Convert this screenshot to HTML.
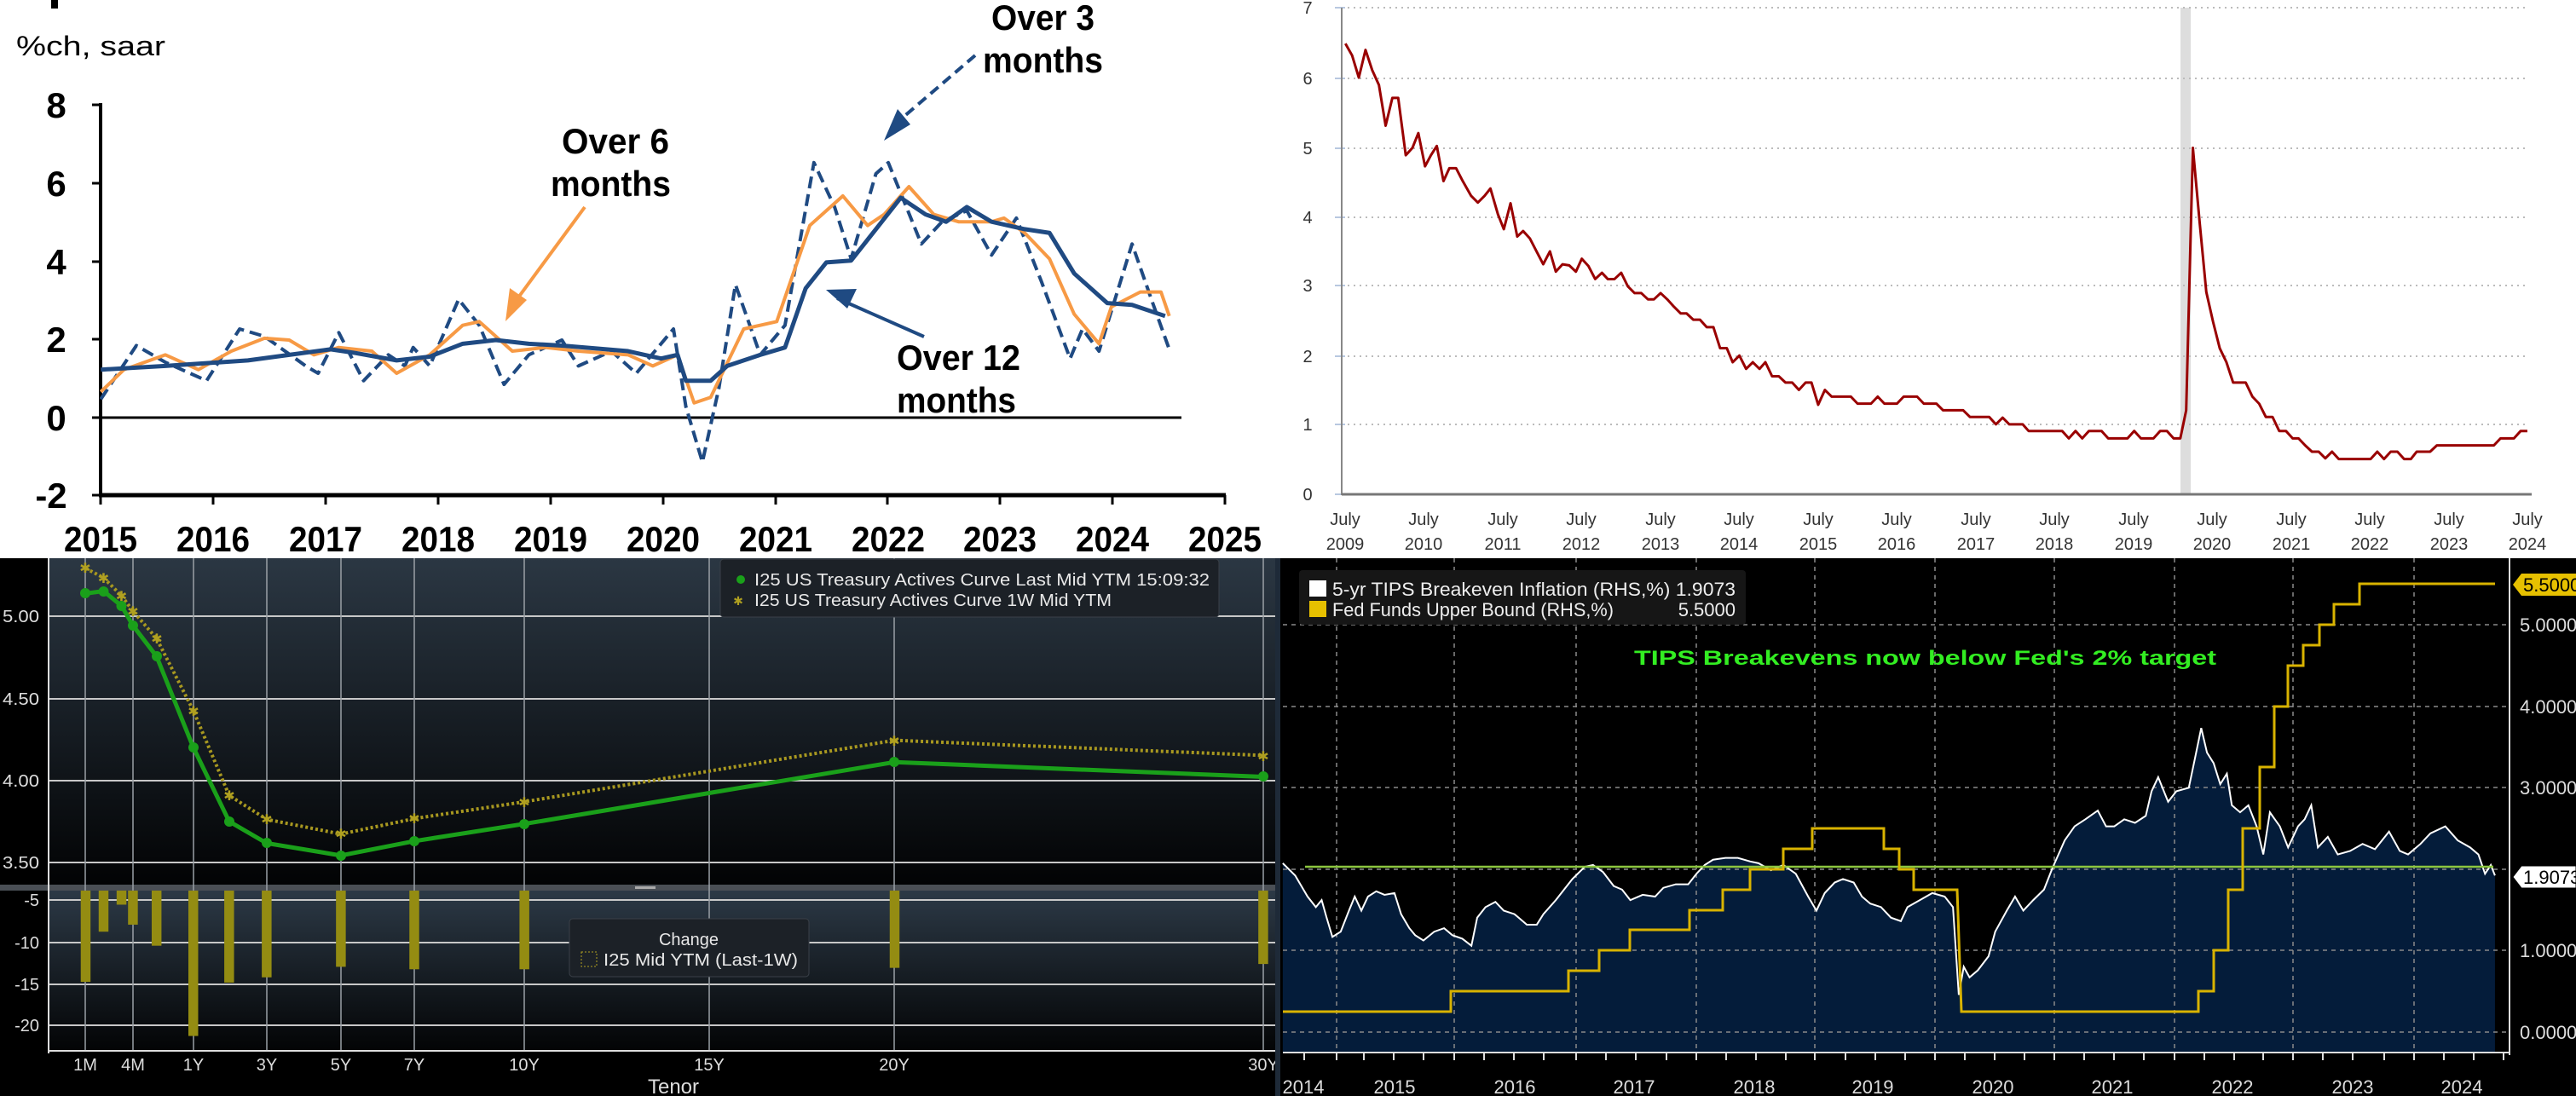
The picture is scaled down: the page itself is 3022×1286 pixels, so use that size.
<!DOCTYPE html>
<html><head><meta charset="utf-8"><style>
html,body{margin:0;padding:0;background:#fff;}
svg{display:block;font-family:"Liberation Sans",sans-serif;}
</style></head><body>
<svg width="3022" height="1286" viewBox="0 0 3022 1286" xmlns="http://www.w3.org/2000/svg">
<defs>
<linearGradient id="gU" x1="0" y1="0" x2="0" y2="1"><stop offset="0" stop-color="#2b3743"/><stop offset="1" stop-color="#020304"/></linearGradient>
<linearGradient id="gL" x1="0" y1="0" x2="0" y2="1"><stop offset="0" stop-color="#2c3946"/><stop offset="1" stop-color="#030405"/></linearGradient>
</defs>
<rect x="0" y="0" width="3022" height="655" fill="#fff"/>

<!-- ============ TOP LEFT ============ -->
<g fill="#000">
<rect x="60" y="0" width="8" height="10"/>
<text x="19" y="65" font-size="32" textLength="175" lengthAdjust="spacingAndGlyphs">%ch, saar</text>
<g font-weight="bold" font-size="42" text-anchor="middle">
<text x="66" y="138">8</text><text x="66" y="230">6</text><text x="66" y="322">4</text><text x="66" y="413">2</text><text x="66" y="505">0</text><text x="60" y="596">-2</text>
</g>
<g font-weight="bold" font-size="42">
<text x="75" y="647" textLength="86" lengthAdjust="spacingAndGlyphs">2015</text>
<text x="207" y="647" textLength="86" lengthAdjust="spacingAndGlyphs">2016</text>
<text x="339" y="647" textLength="86" lengthAdjust="spacingAndGlyphs">2017</text>
<text x="471" y="647" textLength="86" lengthAdjust="spacingAndGlyphs">2018</text>
<text x="603" y="647" textLength="86" lengthAdjust="spacingAndGlyphs">2019</text>
<text x="735" y="647" textLength="86" lengthAdjust="spacingAndGlyphs">2020</text>
<text x="867" y="647" textLength="86" lengthAdjust="spacingAndGlyphs">2021</text>
<text x="999" y="647" textLength="86" lengthAdjust="spacingAndGlyphs">2022</text>
<text x="1130" y="647" textLength="86" lengthAdjust="spacingAndGlyphs">2023</text>
<text x="1262" y="647" textLength="86" lengthAdjust="spacingAndGlyphs">2024</text>
<text x="1394" y="647" textLength="86" lengthAdjust="spacingAndGlyphs">2025</text>
<text x="659" y="180" textLength="126" lengthAdjust="spacingAndGlyphs">Over 6</text>
<text x="646" y="230" textLength="141" lengthAdjust="spacingAndGlyphs">months</text>
<text x="1163" y="35" textLength="121" lengthAdjust="spacingAndGlyphs">Over 3</text>
<text x="1153" y="85" textLength="141" lengthAdjust="spacingAndGlyphs">months</text>
<text x="1052" y="434" textLength="145" lengthAdjust="spacingAndGlyphs">Over 12</text>
<text x="1052" y="484" textLength="140" lengthAdjust="spacingAndGlyphs">months</text>
</g>
</g>
<g stroke="#000" fill="none">
<line x1="118" y1="121" x2="118" y2="583" stroke-width="4"/>
<line x1="116" y1="581" x2="1438" y2="581" stroke-width="5"/>
<line x1="118" y1="490" x2="1386" y2="490" stroke-width="3"/>
<path d="M108 123H118M108 215H118M108 307H118M108 398H118M108 490H118M108 581H118" stroke-width="3"/>
<path d="M118 581V592M250 581V592M382 581V592M514 581V592M646 581V592M778 581V592M910 581V592M1041 581V592M1173 581V592M1305 581V592M1437 581V592" stroke-width="3"/>
</g>
<g transform="scale(0.9694,0.4337)" fill="none" stroke-linejoin="round">
<polyline vector-effect="non-scaling-stroke" stroke="#1f4a82" stroke-width="4" stroke-dasharray="14,7" points="122,1080 165,935 200,980 230,1010 250,1030 290,890 320,910 370,990 385,1010 410,900 440,1030 470,960 490,990 500,940 520,990 555,810 580,880 610,1040 640,960 680,920 700,990 740,950 770,1010 815,890 830,1100 850,1250 870,1050 890,770 920,960 950,880 985,440 1010,560 1030,700 1060,470 1075,440 1115,660 1140,600 1170,570 1200,690 1230,590 1260,760 1295,970 1310,890 1330,950 1370,660 1395,820 1415,945"/>
<polyline vector-effect="non-scaling-stroke" stroke="#f79a45" stroke-width="4" points="122,1060 150,1000 200,960 240,1000 280,950 320,915 350,920 380,960 410,940 450,950 480,1010 520,960 560,880 580,870 620,950 660,940 700,950 760,960 790,990 820,960 840,1090 860,1075 900,890 940,870 980,610 1020,530 1050,610 1070,580 1100,505 1130,580 1160,600 1200,600 1215,590 1240,630 1270,700 1300,850 1330,930 1345,830 1380,790 1405,790 1415,855"/>
<polyline vector-effect="non-scaling-stroke" stroke="#1f4a82" stroke-width="5" points="122,1000 200,990 300,975 350,960 400,945 430,955 480,975 520,965 560,930 600,920 640,930 680,935 760,950 800,970 820,960 830,1030 860,1030 880,990 920,960 950,940 975,780 1000,710 1030,705 1060,620 1090,535 1120,580 1145,600 1170,560 1200,600 1240,620 1270,630 1300,740 1340,820 1370,825 1410,855"/>
</g>
<!-- arrows -->
<g fill="none" stroke-width="4">
<line x1="1144" y1="65" x2="1045" y2="150" stroke="#1f4a82" stroke-dasharray="12,7"/>
<polygon points="1037,165 1053,128 1068,146" fill="#1f4a82" stroke="none"/>
<line x1="686" y1="243" x2="600" y2="360" stroke="#f79a45"/>
<polygon points="593,377 598,338 618,352" fill="#f79a45" stroke="none"/>
<line x1="1084" y1="395" x2="982" y2="350" stroke="#1f4a82"/>
<polygon points="969,340 1005,339 994,362" fill="#1f4a82" stroke="none"/>
</g>

<!-- ============ TOP RIGHT ============ -->
<rect x="2558" y="9" width="12" height="571" fill="#ddd"/>
<g stroke="#bbb" stroke-width="2" stroke-dasharray="2,5">
<path d="M1574 9H2965M1574 92H2965M1574 174H2965M1574 255H2965M1574 335H2965M1574 418H2965M1574 498H2965"/>
</g>
<g stroke="#b8c8e0" stroke-width="2"><path d="M1566 9H1578M1566 92H1578M1566 174H1578M1566 255H1578M1566 335H1578M1566 418H1578M1566 498H1578M1566 580H1578"/></g>
<line x1="1574" y1="9" x2="1574" y2="581" stroke="#888" stroke-width="2"/>
<line x1="1574" y1="580" x2="2970" y2="580" stroke="#777" stroke-width="3"/>
<g fill="#333" font-size="20" text-anchor="middle">
<text x="1534" y="16">7</text><text x="1534" y="99">6</text><text x="1534" y="181">5</text><text x="1534" y="262">4</text><text x="1534" y="342">3</text><text x="1534" y="425">2</text><text x="1534" y="505">1</text><text x="1534" y="587">0</text>
</g>
<g fill="#333" font-size="20" text-anchor="middle">
<text x="1578" y="616">July</text><text x="1670" y="616">July</text><text x="1763" y="616">July</text><text x="1855" y="616">July</text><text x="1948" y="616">July</text><text x="2040" y="616">July</text><text x="2133" y="616">July</text><text x="2225" y="616">July</text><text x="2318" y="616">July</text><text x="2410" y="616">July</text><text x="2503" y="616">July</text><text x="2595" y="616">July</text><text x="2688" y="616">July</text><text x="2780" y="616">July</text><text x="2873" y="616">July</text><text x="2965" y="616">July</text>
<text x="1578" y="645">2009</text><text x="1670" y="645">2010</text><text x="1763" y="645">2011</text><text x="1855" y="645">2012</text><text x="1948" y="645">2013</text><text x="2040" y="645">2014</text><text x="2133" y="645">2015</text><text x="2225" y="645">2016</text><text x="2318" y="645">2017</text><text x="2410" y="645">2018</text><text x="2503" y="645">2019</text><text x="2595" y="645">2020</text><text x="2688" y="645">2021</text><text x="2780" y="645">2022</text><text x="2873" y="645">2023</text><text x="2965" y="645">2024</text>
</g>
<g transform="translate(1480,0) scale(0.9834,0.4337)" fill="none">
<polyline vector-effect="non-scaling-stroke" stroke="#990000" stroke-width="3" stroke-linejoin="round" points="100,118 108,150 116,210 124,135 132,190 140,230 148,340 156,265 163,265 172,420 180,400 187,360 195,450 202,420 209,395 217,490 224,455 232,455 240,490 250,530 258,548 266,530 273,510 282,580 289,620 297,550 305,640 312,625 320,645 328,680 336,715 344,680 351,735 359,715 367,718 375,735 382,700 390,720 398,755 406,738 413,755 421,755 429,738 437,775 445,793 453,793 461,810 468,810 476,793 484,810 492,830 500,848 507,848 515,865 523,865 531,885 539,885 547,942 555,942 562,980 570,962 578,998 586,980 594,998 601,980 609,1018 617,1018 625,1035 633,1035 641,1055 649,1035 656,1035 664,1095 672,1055 680,1073 703,1073 711,1092 727,1092 735,1073 743,1092 758,1092 766,1073 782,1073 790,1092 805,1092 813,1110 837,1110 845,1128 868,1128 876,1148 884,1130 892,1148 908,1148 915,1166 955,1166 963,1186 971,1166 979,1186 987,1166 1002,1166 1010,1186 1033,1186 1041,1166 1049,1186 1064,1186 1072,1166 1080,1166 1088,1186 1096,1186 1103,1110 1111,400 1119,600 1127,790 1135,870 1143,942 1151,980 1159,1035 1174,1035 1182,1073 1190,1092 1198,1128 1206,1128 1214,1166 1222,1166 1230,1186 1237,1186 1245,1205 1253,1222 1261,1222 1269,1240 1277,1222 1285,1242 1323,1242 1331,1222 1339,1242 1347,1222 1355,1222 1363,1242 1371,1242 1378,1222 1394,1222 1402,1205 1470,1205 1478,1186 1494,1186 1502,1166 1510,1166"/>
</g>

<!-- ============ BOTTOM LEFT ============ -->
<rect x="0" y="655" width="1500" height="631" fill="#000"/>
<rect x="57" y="655" width="1443" height="383" fill="url(#gU)"/>
<rect x="57" y="1045" width="1443" height="188" fill="url(#gL)"/>
<rect x="0" y="1038" width="1500" height="7" fill="#4a4f55"/>
<rect x="745" y="1040" width="24" height="3" fill="#aaa"/>
<g stroke="#c8c8c8" stroke-width="2">
<path d="M57 723H1500M57 820H1500M57 916H1500M57 1012H1500M57 1056H1500M57 1106H1500M57 1155H1500M57 1203H1500"/>
</g>
<g stroke="#9aa0a6" stroke-width="1.5">
<path d="M100 655V1233M156 655V1233M227 655V1233M313 655V1233M400 655V1233M486 655V1233M615 655V1233M832 655V1233M1049 655V1233M1482 655V1233"/>
</g>
<line x1="57" y1="655" x2="57" y2="1236" stroke="#ddd" stroke-width="2"/>
<line x1="57" y1="1233" x2="1500" y2="1233" stroke="#ddd" stroke-width="2"/>
<g fill="#ddd" font-size="20" text-anchor="end">
<text x="46" y="730" textLength="43" lengthAdjust="spacingAndGlyphs">5.00</text>
<text x="46" y="827" textLength="43" lengthAdjust="spacingAndGlyphs">4.50</text>
<text x="46" y="923" textLength="43" lengthAdjust="spacingAndGlyphs">4.00</text>
<text x="46" y="1019" textLength="43" lengthAdjust="spacingAndGlyphs">3.50</text>
<text x="46" y="1063">-5</text><text x="46" y="1113">-10</text><text x="46" y="1162">-15</text><text x="46" y="1210">-20</text>
</g>
<g fill="#ddd" font-size="20" text-anchor="middle">
<text x="100" y="1256">1M</text><text x="156" y="1256">4M</text><text x="227" y="1256">1Y</text><text x="313" y="1256">3Y</text><text x="400" y="1256">5Y</text><text x="486" y="1256">7Y</text><text x="615" y="1256">10Y</text><text x="832" y="1256">15Y</text><text x="1049" y="1256">20Y</text><text x="1482" y="1256">30Y</text>
<text x="790" y="1283" font-size="24">Tenor</text>
</g>
<g transform="translate(0,640) scale(0.9567,0.4120)">
<g fill="#948c12">
<rect x="99" y="983" width="12" height="260"/><rect x="121" y="983" width="12" height="117"/><rect x="143" y="983" width="12" height="40"/><rect x="157" y="983" width="12" height="97"/><rect x="186" y="983" width="12" height="157"/><rect x="231" y="983" width="12" height="414"/><rect x="275" y="983" width="12" height="262"/><rect x="321" y="983" width="12" height="247"/><rect x="412" y="983" width="12" height="217"/><rect x="502" y="983" width="12" height="224"/><rect x="637" y="983" width="12" height="224"/><rect x="1091" y="983" width="12" height="220"/><rect x="1543" y="983" width="12" height="209"/>
</g>
<polyline vector-effect="non-scaling-stroke" fill="none" stroke="#a89820" stroke-width="4" stroke-dasharray="3,3" points="105,65 127,92 149,143 163,187 192,265 237,470 281,712 327,780 418,822 508,778 643,730 1097,555 1549,598"/>
<polyline vector-effect="non-scaling-stroke" fill="none" stroke="#1aa01a" stroke-width="5" points="105,137 127,130 149,172 163,228 192,316 237,575 281,786 327,848 418,883 508,842 643,793 1097,617 1549,659"/>
</g>
<g fill="#1aa01a">
<circle cx="100" cy="696" r="6"/><circle cx="121.5" cy="694" r="6"/><circle cx="142.5" cy="711" r="6"/><circle cx="156" cy="734" r="6"/><circle cx="184" cy="770" r="6"/><circle cx="227" cy="877" r="6"/><circle cx="269" cy="964" r="6"/><circle cx="313" cy="989" r="6"/><circle cx="400" cy="1004" r="6"/><circle cx="486" cy="987" r="6"/><circle cx="615" cy="967" r="6"/><circle cx="1049" cy="894" r="6"/><circle cx="1482" cy="911" r="6"/>
</g>
<g fill="#b0a020" font-size="16" text-anchor="middle">
<text x="100" y="672">✱</text><text x="121.5" y="684">✱</text><text x="142.5" y="705">✱</text><text x="156" y="723">✱</text><text x="184" y="755">✱</text><text x="227" y="840">✱</text><text x="269" y="939">✱</text><text x="313" y="967">✱</text><text x="400" y="984">✱</text><text x="486" y="966">✱</text><text x="615" y="947">✱</text><text x="1049" y="875">✱</text><text x="1482" y="893">✱</text>
</g>
<rect x="845" y="656" width="585" height="68" rx="4" fill="#1c2127" stroke="#3a4048"/>
<circle cx="869" cy="680" r="5" fill="#1aa01a"/>
<text x="866" y="710" fill="#b0a020" font-size="14" text-anchor="middle">✱</text>
<g fill="#e8e8e8" font-size="20">
<text x="885" y="687" textLength="534" lengthAdjust="spacingAndGlyphs">I25 US Treasury Actives Curve Last Mid YTM 15:09:32</text>
<text x="885" y="711" textLength="419" lengthAdjust="spacingAndGlyphs">I25 US Treasury Actives Curve 1W Mid YTM</text>
</g>
<rect x="668" y="1078" width="281" height="68" rx="4" fill="#1c2127" stroke="#3a4048"/>
<text x="808" y="1109" fill="#e8e8e8" font-size="20" text-anchor="middle">Change</text>
<rect x="682" y="1117" width="18" height="17" fill="none" stroke="#b0a020" stroke-dasharray="2,2"/>
<text x="708" y="1133" fill="#e8e8e8" font-size="20" textLength="228" lengthAdjust="spacingAndGlyphs">I25 Mid YTM (Last-1W)</text>

<!-- ============ BOTTOM RIGHT ============ -->
<rect x="1500" y="655" width="1522" height="631" fill="#000"/>
<rect x="1496" y="655" width="6" height="631" fill="#1e2a38"/>
<g transform="translate(1500,640) scale(0.9707,0.4120)">
<polygon fill="#041c3a" points="5,1445 5,905 20,940 35,1000 45,1030 52,1010 58,1060 65,1115 75,1100 85,1040 92,1000 100,1040 108,1000 118,985 128,995 140,990 148,1050 158,1090 165,1110 175,1125 188,1100 200,1090 210,1110 222,1120 233,1140 240,1060 250,1030 262,1015 272,1040 285,1050 300,1080 312,1080 320,1050 335,1010 345,980 355,950 370,915 380,910 392,930 405,970 415,980 425,1010 440,995 455,1000 465,975 480,965 495,965 505,935 515,910 525,895 540,890 555,890 570,900 580,905 595,925 610,910 625,935 640,1000 650,1040 660,990 672,960 682,950 695,960 705,1000 715,1020 728,1030 740,1060 752,1070 760,1030 775,1010 790,990 805,1000 815,1030 822,1280 828,1200 835,1230 845,1210 858,1170 866,1100 880,1040 890,1000 900,1040 912,1010 925,980 935,920 950,840 962,800 975,780 990,755 1000,800 1010,800 1022,780 1035,790 1048,770 1055,700 1063,660 1075,730 1085,700 1100,690 1108,600 1115,520 1122,590 1130,620 1138,680 1146,650 1152,740 1162,760 1172,740 1182,800 1190,880 1198,760 1210,800 1220,860 1232,800 1240,780 1248,740 1256,860 1268,830 1280,880 1295,870 1310,850 1325,865 1342,815 1355,870 1365,880 1380,850 1392,820 1410,800 1425,840 1440,860 1450,880 1458,935 1465,910 1470,940 1470,1445"/>
</g>
<g stroke="#8a8a8a" stroke-width="1.5" stroke-dasharray="5,5">
<path d="M1505 733H2944M1505 829H2944M1505 924H2944M1505 1020H2944M1505 1115H2944M1505 1211H2944"/>
<path d="M1568 655V1235M1706 655V1235M1849 655V1235M1990 655V1235M2129 655V1235M2270 655V1235M2410 655V1235M2551 655V1235M2690 655V1235M2832 655V1235"/>
</g>
<g transform="translate(1500,640) scale(0.9707,0.4120)">
<polyline vector-effect="non-scaling-stroke" fill="none" stroke="#fff" stroke-width="2" points="5,905 20,940 35,1000 45,1030 52,1010 58,1060 65,1115 75,1100 85,1040 92,1000 100,1040 108,1000 118,985 128,995 140,990 148,1050 158,1090 165,1110 175,1125 188,1100 200,1090 210,1110 222,1120 233,1140 240,1060 250,1030 262,1015 272,1040 285,1050 300,1080 312,1080 320,1050 335,1010 345,980 355,950 370,915 380,910 392,930 405,970 415,980 425,1010 440,995 455,1000 465,975 480,965 495,965 505,935 515,910 525,895 540,890 555,890 570,900 580,905 595,925 610,910 625,935 640,1000 650,1040 660,990 672,960 682,950 695,960 705,1000 715,1020 728,1030 740,1060 752,1070 760,1030 775,1010 790,990 805,1000 815,1030 822,1280 828,1200 835,1230 845,1210 858,1170 866,1100 880,1040 890,1000 900,1040 912,1010 925,980 935,920 950,840 962,800 975,780 990,755 1000,800 1010,800 1022,780 1035,790 1048,770 1055,700 1063,660 1075,730 1085,700 1100,690 1108,600 1115,520 1122,590 1130,620 1138,680 1146,650 1152,740 1162,760 1172,740 1182,800 1190,880 1198,760 1210,800 1220,860 1232,800 1240,780 1248,740 1256,860 1268,830 1280,880 1295,870 1310,850 1325,865 1342,815 1355,870 1365,880 1380,850 1392,820 1410,800 1425,840 1440,860 1450,880 1458,935 1465,910 1470,940"/>
</g>
<line x1="1531" y1="1017" x2="2925" y2="1017" stroke="#8cc63f" stroke-width="2.5"/>
<polyline fill="none" stroke="#d9b300" stroke-width="3" points="1505,1187 1702,1187 1702,1163 1840,1163 1840,1139 1876,1139 1876,1115 1912,1115 1912,1091 1982,1091 1982,1068 2021,1068 2021,1044 2053,1044 2053,1020 2092,1020 2092,996 2126,996 2126,972 2210,972 2210,996 2228,996 2228,1020 2245,1020 2245,1044 2296,1044 2301,1187 2579,1187 2579,1163 2597,1163 2597,1115 2614,1115 2614,1044 2631,1044 2631,972 2651,972 2651,900 2668,900 2668,829 2684,829 2684,781 2702,781 2702,757 2721,757 2721,733 2738,733 2738,709 2768,709 2768,685 2927,685"/>
<line x1="2944" y1="655" x2="2944" y2="1238" stroke="#ddd" stroke-width="2"/>
<line x1="1505" y1="1235" x2="2944" y2="1235" stroke="#ddd" stroke-width="2"/>
<g stroke="#ddd" stroke-width="2"><path d="M1530 1235V1244M1568 1235V1244M1600 1235V1244M1635 1235V1244M1670 1235V1244M1706 1235V1244M1741 1235V1244M1776 1235V1244M1811 1235V1244M1849 1235V1244M1884 1235V1244M1919 1235V1244M1955 1235V1244M1990 1235V1244M2025 1235V1244M2060 1235V1244M2095 1235V1244M2129 1235V1244M2165 1235V1244M2200 1235V1244M2235 1235V1244M2270 1235V1244M2305 1235V1244M2340 1235V1244M2375 1235V1244M2410 1235V1244M2445 1235V1244M2480 1235V1244M2515 1235V1244M2551 1235V1244M2586 1235V1244M2621 1235V1244M2655 1235V1244M2690 1235V1244M2725 1235V1244M2760 1235V1244M2797 1235V1244M2832 1235V1244M2867 1235V1244M2902 1235V1244M2937 1235V1244"/></g>
<g fill="#ddd" font-size="22" text-anchor="middle">
<text x="1529" y="1283">2014</text><text x="1636" y="1283">2015</text><text x="1777" y="1283">2016</text><text x="1917" y="1283">2017</text><text x="2058" y="1283">2018</text><text x="2197" y="1283">2019</text><text x="2338" y="1283">2020</text><text x="2478" y="1283">2021</text><text x="2619" y="1283">2022</text><text x="2760" y="1283">2023</text><text x="2888" y="1283">2024</text>
</g>
<g fill="#ddd" font-size="22">
<text x="2956" y="741">5.0000</text><text x="2956" y="837">4.0000</text><text x="2956" y="932">3.0000</text><text x="2956" y="1123">1.0000</text><text x="2956" y="1219">0.0000</text>
</g>
<polygon points="2948,686 2958,673 3022,673 3022,699 2958,699" fill="#e6c000"/>
<text x="2960" y="694" fill="#000" font-size="22">5.5000</text>
<polygon points="2948,1029 2958,1016 3022,1016 3022,1042 2958,1042" fill="#fff" stroke="#000"/>
<text x="2960" y="1037" fill="#000" font-size="22">1.9073</text>
<rect x="1524" y="669" width="524" height="64" rx="4" fill="#161616"/>
<rect x="1536" y="681" width="20" height="19" fill="#fff"/>
<rect x="1536" y="705" width="20" height="19" fill="#e6c000"/>
<g fill="#eee" font-size="22">
<text x="1563" y="699" textLength="473" lengthAdjust="spacingAndGlyphs">5-yr TIPS Breakeven Inflation (RHS,%) 1.9073</text>
<text x="1563" y="723" textLength="330" lengthAdjust="spacingAndGlyphs">Fed Funds Upper Bound (RHS,%)</text>
<text x="2036" y="723" text-anchor="end">5.5000</text>
</g>
<text x="1917" y="780" fill="#33ee22" font-size="24" font-weight="bold" textLength="683" lengthAdjust="spacingAndGlyphs">TIPS Breakevens now below Fed's 2% target</text>
</svg>
</body></html>
